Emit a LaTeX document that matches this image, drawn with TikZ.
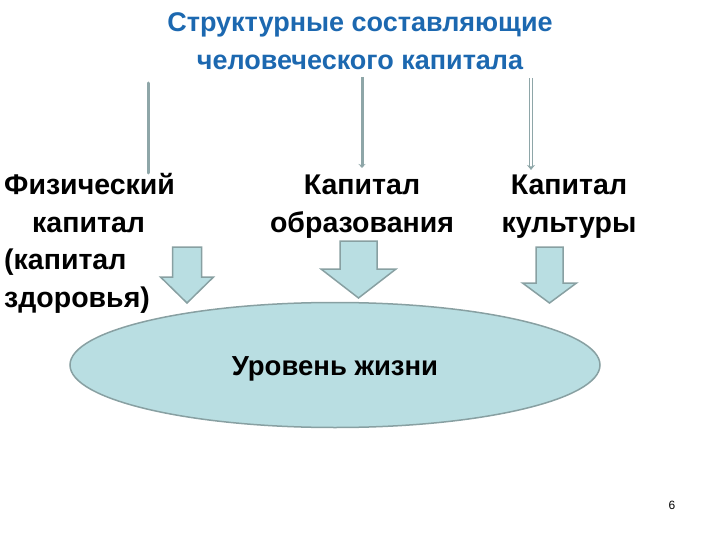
\documentclass[tikz,border=0pt]{standalone}
\usepackage{fontspec}
\setmainfont{Liberation Sans}
\usetikzlibrary{shapes.geometric,arrows.meta}
\definecolor{ttlblue}{RGB}{28,104,176}
\definecolor{linegray}{RGB}{142,166,168}
\definecolor{edgegray}{RGB}{136,160,162}
\definecolor{boxblue}{RGB}{185,222,226}
% block arrow: centre x, shaft half width, head half width, top, head start, tip
\newcommand{\fatarrow}[6]{%
  \draw[fat] (#1-#2,#4) -- (#1+#2,#4) -- (#1+#2,#5) -- (#1+#3,#5) -- (#1,#6)
    -- (#1-#3,#5) -- (#1-#2,#5) -- cycle;}
\begin{document}
\begin{tikzpicture}[x=1pt,y=-1pt,
  txt/.style={font=\bfseries\fontsize{28.5}{37.5}\selectfont,inner sep=0pt,align=center},
  ttl/.style={font=\bfseries\fontsize{27}{37.5}\selectfont,text=ttlblue,inner sep=0pt,align=center},
  vline/.style={draw=linegray,line width=3pt},
  fat/.style={draw=edgegray,line width=1.5pt,fill=boxblue,line join=miter}]
 \useasboundingbox (0,0) rectangle (720,540);
 % Title
 \node[ttl] (ttl) at (360,41) {Структурные составляющие\\человеческого капитала};
 % Components
 \node[txt,align=left,anchor=north west] (phys) at (4,173.5)
   {Физический\\\hspace{28pt}капитал\\(капитал\\здоровья)};
 \node[txt,anchor=north] (edu) at (362,175) {Капитал\\образования};
 \node[txt,anchor=north] (cult) at (569,175) {Капитал\\культуры};
 % Lines from the title
 \coordinate (l0) at (148,83);  \coordinate (l1) at (148,173);
 \coordinate (m0) at (362,77);  \coordinate (m1) at (362,168);
 \coordinate (r0) at (531,78);  \coordinate (r1) at (531,170);
 \draw[vline,line cap=round] (l0) -- (l1);
 \draw[vline,-{Stealth[length=4pt,width=7pt]}] (m0) -- (m1);
 \draw[draw=linegray,line width=0.9pt,double=white,double distance=1.6pt,
   -{Stealth[length=5pt,width=8pt]}] (r0) -- (r1);
 % Level of life
 \node[ellipse,draw=edgegray,line width=1.5pt,fill=boxblue,minimum width=530pt,
   minimum height=125pt,font=\bfseries\fontsize{27.5}{32}\selectfont] (life) at (335,365)
   {\raisebox{-10pt}[0pt][0pt]{Уровень жизни}};
 \fatarrow{187}{14.5}{26.5}{247}{277}{303}
 \fatarrow{358.5}{18.5}{37.5}{241}{269}{298}
 \fatarrow{549.5}{13.5}{27}{247}{283}{303}
 % Page number
 \node[font=\fontsize{12}{14}\selectfont] (pg) at (672,505) {6};
\end{tikzpicture}
\end{document}
